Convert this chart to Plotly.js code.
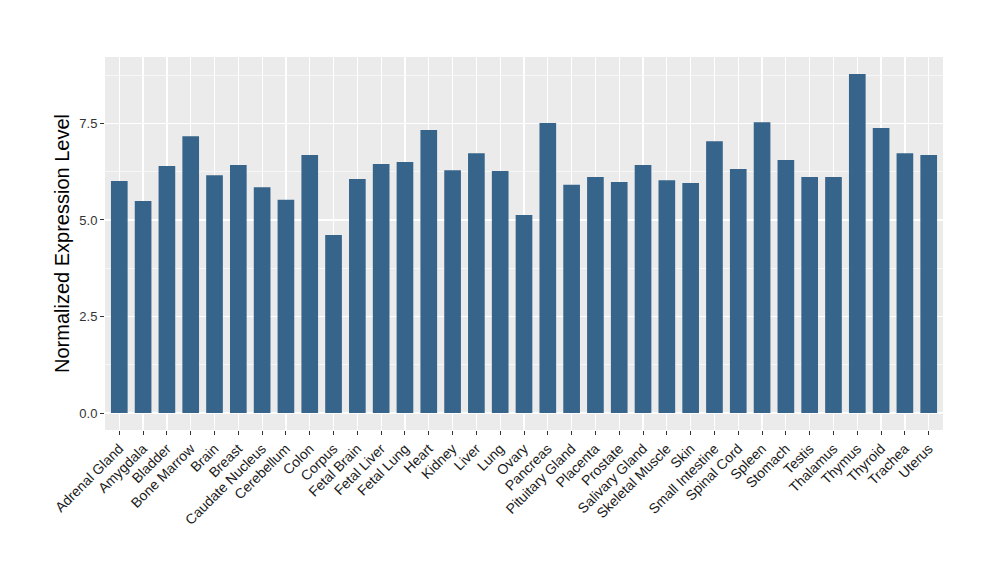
<!DOCTYPE html>
<html>
<head>
<meta charset="utf-8">
<script src="https://cdn.plot.ly/plotly-3.0.1.min.js"></script>
<style>body{margin:0;padding:0;background:#fff;}#chart{width:1000px;height:580px;}</style>
</head>
<body>
<div id="chart"></div>
<script>
const tissues = ["Adrenal Gland","Amygdala","Bladder","Bone Marrow","Brain","Breast","Caudate Nucleus","Cerebellum","Colon","Corpus","Fetal Brain","Fetal Liver","Fetal Lung","Heart","Kidney","Liver","Lung","Ovary","Pancreas","Pituitary Gland","Placenta","Prostate","Salivary Gland","Skeletal Muscle","Skin","Small Intestine","Spinal Cord","Spleen","Stomach","Testis","Thalamus","Thymus","Thyroid","Trachea","Uterus"];
const expression = [6.01,5.49,6.40,7.17,6.16,6.42,5.85,5.52,6.68,4.61,6.06,6.45,6.50,7.33,6.29,6.73,6.27,5.13,7.51,5.91,6.11,5.98,6.42,6.03,5.96,7.04,6.32,7.53,6.55,6.11,6.11,8.78,7.38,6.73,6.68];
const yTicks = [0, 2.5, 5, 7.5];

const trace = {
  type: 'bar',
  x: tissues,
  y: expression,
  width: 0.7,
  marker: {color: '#36648B'},
  hoverinfo: 'x+y'
};

const layout = {
  width: 1000,
  height: 580,
  margin: {l: 105, r: 57, t: 57, b: 150},
  paper_bgcolor: '#ffffff',
  plot_bgcolor: '#EBEBEB',
  showlegend: false,
  font: {family: 'Liberation Sans, Arial, sans-serif', color: '#4D4D4D'},
  xaxis: {
    type: 'category',
    range: [-0.6, tissues.length - 0.4],
    tickangle: -45,
    tickfont: {size: 14, color: '#1a1a1a'},
    ticks: 'outside',
    ticklen: 4,
    tickcolor: '#333333',
    tickwidth: 1,
    showgrid: true,
    gridcolor: '#ffffff',
    gridwidth: 1.2,
    zeroline: false,
    showline: false,
    fixedrange: true
  },
  yaxis: {
    range: [-0.44, 9.22],
    tickvals: yTicks,
    ticktext: yTicks.map(v => v.toFixed(1)),
    tickfont: {size: 13, color: '#333333'},
    ticks: 'outside',
    ticklen: 4,
    tickcolor: '#333333',
    tickwidth: 1,
    showgrid: true,
    gridcolor: '#ffffff',
    gridwidth: 1.2,
    minor: {tickvals: [1.25, 3.75, 6.25, 8.75], showgrid: true, gridcolor: '#ffffff', gridwidth: 0.6, ticks: ''},
    zeroline: false,
    showline: false,
    title: {text: 'Normalized Expression Level', font: {size: 20, color: '#000000'}, standoff: 4},
    fixedrange: true
  },
  bargap: 0.3
};

Plotly.newPlot('chart', [trace], layout, {displayModeBar: false, staticPlot: true});
</script>
</body>
</html>
